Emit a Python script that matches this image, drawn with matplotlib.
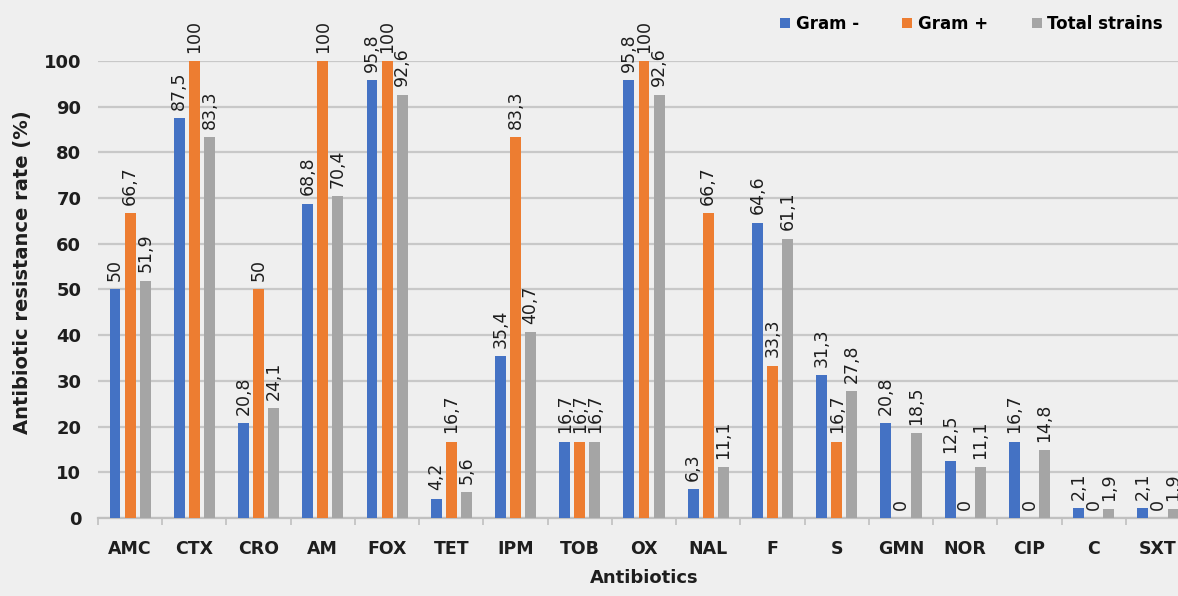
import numpy as np
import matplotlib
matplotlib.use("Agg")
import matplotlib.pyplot as plt

plt.rcParams['font.family'] = ['DejaVu Sans']

# --- Resistance rates (%) per antibiotic ---
antibiotics = ["AMC", "CTX", "CRO", "AM", "FOX", "TET", "IPM", "TOB", "OX",
               "NAL", "F", "S", "GMN", "NOR", "CIP", "C", "SXT"]
gram_neg = [50, 87.5, 20.8, 68.8, 95.8, 4.2, 35.4, 16.7, 95.8,
            6.3, 64.6, 31.3, 20.8, 12.5, 16.7, 2.1, 2.1]
gram_pos = [66.7, 100, 50, 100, 100, 16.7, 83.3, 16.7, 100,
            66.7, 33.3, 16.7, 0, 0, 0, 0, 0]
total = [51.9, 83.3, 24.1, 70.4, 92.6, 5.6, 40.7, 16.7, 92.6,
         11.1, 61.1, 27.8, 18.5, 11.1, 14.8, 1.9, 1.9]

series = [("Gram -", gram_neg, "#4472c4"),
          ("Gram +", gram_pos, "#ed7d31"),
          ("Total strains", total, "#a5a5a5")]

bg = "#efefef"
txt_col = "#1e1e1e"
fig = plt.figure(figsize=(11.78, 5.96), dpi=100, facecolor=bg)
ax = fig.add_axes([0.0832, 0.1309, 0.927, 0.7668], facecolor=bg)

x = np.arange(len(antibiotics))
bar_w = 0.17
step = 0.235

for i, (name, vals, col) in enumerate(series):
    pos = x + (i - 1) * step
    bars = ax.bar(pos, vals, width=bar_w, color=col, label=name, zorder=3)
    for b, v in zip(bars, vals):
        txt = f"{v:g}".replace(".", ",")
        ax.annotate(txt, (b.get_x() + b.get_width() / 2, v),
                    xytext=(0, 6), textcoords="offset points",
                    rotation=90, ha="center", va="bottom",
                    fontsize=12.5, color=txt_col, annotation_clip=False)

ax.set_xlim(-0.5, len(antibiotics) - 0.5)
ax.set_ylim(0, 100)
ax.set_yticks(np.arange(0, 101, 10))
ax.set_xticks(x)
ax.set_xticklabels(antibiotics, fontsize=12.5, fontweight="bold", color=txt_col)
ax.set_xticks(np.arange(-0.5, len(antibiotics)), minor=True)
ax.tick_params(axis="x", which="major", length=0, pad=16)
ax.tick_params(axis="x", which="minor", length=5, color="#bfbfbf", width=1.2)
ax.tick_params(axis="y", length=0, labelsize=13, pad=12)
for lbl in ax.get_yticklabels():
    lbl.set_fontweight("bold")
    lbl.set_color(txt_col)

ax.grid(axis="y", color="#c8c8c8", linewidth=1.6, zorder=0)
for s in ["top", "right", "left"]:
    ax.spines[s].set_visible(False)
ax.spines["bottom"].set_color("#c0c0c0")
ax.spines["bottom"].set_linewidth(1.6)

ax.set_ylabel("Antibiotic resistance rate (%)", fontsize=14, fontweight="bold",
              color=txt_col)
ax.yaxis.set_label_coords(-0.06, 0.538)
ax.set_xlabel("Antibiotics", fontsize=13, fontweight="bold", color=txt_col,
              labelpad=8)

fig.legend(loc="upper right", bbox_to_anchor=(1.0, 1.0), ncol=3,
           frameon=False, prop={"weight": "bold", "size": 12},
           handlelength=0.6, handleheight=0.6, handletextpad=0.35,
           columnspacing=2.6)

fig.savefig("out.png", dpi=100, facecolor=bg)
